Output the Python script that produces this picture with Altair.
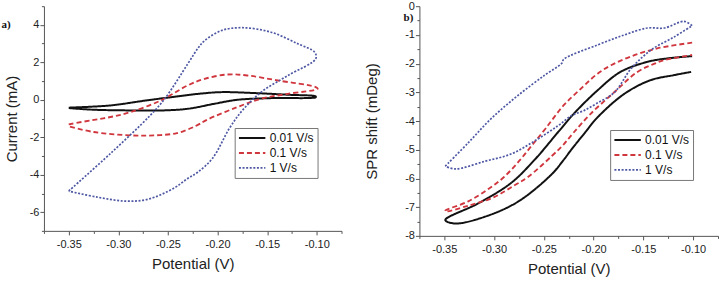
import altair as alt
import pandas as pd

SERIES = ["0.01 V/s", "0.1 V/s", "1 V/s"]
COLORS = ["#111111", "#d0363e", "#4d57a3"]
DASHES = [[1, 0], [5, 3], [2, 1.6]]
WIDTHS = [2.0, 1.7, 1.3]

# ---- panel a: current vs potential ----
A_V_001 = [-0.350, -0.308, -0.274, -0.241, -0.219, -0.196, -0.163, -0.129, -0.101,
           -0.101, -0.146, -0.180, -0.203, -0.230, -0.257, -0.281, -0.325, -0.350]
A_I_001 = [-0.42, -0.30, -0.05, 0.18, 0.32, 0.41, 0.36, 0.27, 0.18,
           0.14, 0.09, 0.00, -0.21, -0.48, -0.57, -0.57, -0.53, -0.44]

A_V_01 = [-0.350, -0.328, -0.308, -0.288, -0.257, -0.230, -0.213, -0.190, -0.170, -0.139, -0.101,
          -0.099, -0.129, -0.156, -0.180, -0.210, -0.222, -0.241, -0.264, -0.288, -0.325, -0.350]
A_I_01 = [-1.31, -1.10, -0.92, -0.66, -0.03, 0.77, 1.12, 1.35, 1.30, 1.03, 0.68,
          0.59, 0.32, 0.06, -0.39, -1.05, -1.40, -1.78, -1.90, -1.90, -1.72, -1.42]

A_V_1 = [-0.350, -0.308, -0.268, -0.253, -0.230, -0.219, -0.213, -0.196, -0.175, -0.146, -0.119, -0.102,
         -0.101, -0.129, -0.156, -0.175, -0.188, -0.205, -0.220, -0.230, -0.244, -0.270, -0.293, -0.321, -0.350]
A_I_1 = [-4.87, -2.87, -0.84, 0.07, 1.92, 2.81, 3.16, 3.70, 3.85, 3.61, 2.99, 2.54,
         2.19, 1.30, 0.41, -0.57, -1.52, -3.12, -3.87, -4.20, -4.72, -5.31, -5.41, -5.20, -4.88]

# ---- panel b: SPR shift vs potential ----
B_V_001 = [-0.101, -0.126, -0.146, -0.173, -0.196, -0.220, -0.236, -0.259, -0.283, -0.316, -0.349,
           -0.339, -0.309, -0.276, -0.242, -0.230, -0.222, -0.209, -0.196, -0.169, -0.143, -0.119, -0.102]
B_S_001 = [-1.74, -1.82, -1.94, -2.29, -2.93, -3.75, -4.40, -5.34, -6.16, -6.87, -7.45,
           -7.57, -7.33, -6.81, -5.85, -5.35, -4.98, -4.42, -3.87, -3.05, -2.58, -2.40, -2.29]

B_V_01 = [-0.101, -0.136, -0.163, -0.182, -0.196, -0.212, -0.230, -0.248, -0.262, -0.275, -0.290, -0.305, -0.326, -0.349,
          -0.349, -0.326, -0.300, -0.280, -0.266, -0.242, -0.230, -0.220, -0.203, -0.179, -0.156, -0.140, -0.129, -0.101]
B_S_01 = [-1.27, -1.47, -1.76, -2.05, -2.35, -2.85, -3.45, -4.25, -4.85, -5.40, -5.95, -6.35, -6.80, -7.12,
          -7.15, -6.95, -6.65, -6.25, -5.95, -5.22, -4.81, -4.40, -3.75, -2.99, -2.29, -2.02, -1.88, -1.70]

B_V_1 = [-0.349, -0.326, -0.303, -0.276, -0.249, -0.232, -0.230, -0.196, -0.169, -0.146, -0.129, -0.109, -0.101,
         -0.101, -0.119, -0.142, -0.162, -0.179, -0.197, -0.210, -0.222, -0.236, -0.259, -0.283, -0.309, -0.339, -0.349]
B_S_1 = [-5.57, -4.76, -3.92, -3.11, -2.40, -1.99, -1.85, -1.35, -1.00, -0.76, -0.76, -0.53, -0.68,
         -0.68, -1.07, -1.52, -2.16, -3.00, -3.39, -3.64, -3.81, -4.17, -4.69, -5.15, -5.40, -5.67, -5.57]

X_TICKS = [-0.375, -0.35, -0.325, -0.30, -0.275, -0.25, -0.225, -0.20, -0.175, -0.15, -0.125, -0.10, -0.075]
A_Y_TICKS = list(range(-7, 6))
B_Y_TICKS = [v / 2 for v in range(-16, 1)]

FONT = "Liberation Sans"


def frame(vs, ys):
    rows = []
    for name, v, y in zip(SERIES, vs, ys):
        for k, (a, b) in enumerate(zip(v, y)):
            rows.append({"series": name, "V": a, "Y": b, "k": k})
    return pd.DataFrame(rows)


def panel(df, ytitle, ydom, yticks, ymajor, height, width, ytitlepad,
          leg_x, leg_y, tag, tag_x, tag_y):
    x_major = "abs(datum.value*20 - round(datum.value*20)) < 0.001"
    legend = alt.Legend(
        title=None, orient="none", legendX=leg_x, legendY=leg_y,
        strokeColor="#777", fillColor="white", padding=3,
        symbolType="stroke", symbolSize=700, clipHeight=14, rowPadding=1,
        labelFont=FONT, labelFontSize=12, labelColor="#111", labelOffset=3,
    )
    lines = alt.Chart(df).mark_line(interpolate="catmull-rom").encode(
        x=alt.X("V:Q", scale=alt.Scale(domain=[-0.375, -0.075], nice=False, zero=False),
                axis=alt.Axis(
                    title="Potential (V)", values=X_TICKS,
                    labelExpr=f"{x_major} ? replace(format(datum.value, '.2f'), '\u2212', '-') : ''",
                    tickSize={"condition": {"test": x_major, "value": 4}, "value": 2.5},
                    labelPadding=4, titlePadding=7,
                )),
        y=alt.Y("Y:Q", scale=alt.Scale(domain=ydom, nice=False, zero=False),
                axis=alt.Axis(
                    title=ytitle, values=yticks,
                    labelExpr=f"{ymajor} ? replace(format(datum.value, 'd'), '\u2212', '-') : ''",
                    tickSize={"condition": {"test": ymajor, "value": 4}, "value": 2.5},
                    labelPadding=1, titlePadding=ytitlepad,
                )),
        color=alt.Color("series:N", scale=alt.Scale(domain=SERIES, range=COLORS), legend=legend),
        strokeDash=alt.StrokeDash("series:N", scale=alt.Scale(domain=SERIES, range=DASHES), legend=legend),
        strokeWidth=alt.StrokeWidth("series:N", scale=alt.Scale(domain=SERIES, range=WIDTHS), legend=legend),
        order="k:Q",
        detail="series:N",
    )
    label = alt.Chart(pd.DataFrame({"t": [tag]})).mark_text(
        font="Liberation Serif", fontWeight="bold", fontSize=11, color="#111"
    ).encode(text="t:N", x=alt.value(tag_x), y=alt.value(tag_y))
    return alt.layer(lines, label).properties(width=width, height=height)


pa = panel(frame([A_V_001, A_V_01, A_V_1], [A_I_001, A_I_01, A_I_1]),
           "Current (mA)", [-7, 5], A_Y_TICKS, "abs(datum.value % 2) < 0.01",
           225, 298, 10, 191, 122, "a)", -38, 19)
pb = panel(frame([B_V_001, B_V_01, B_V_1], [B_S_001, B_S_01, B_S_1]),
           "SPR shift (mDeg)", [-8, 0], B_Y_TICKS, "abs(datum.value % 1) < 0.01",
           230, 299, 25, 191, 124, "b)", -11, 12)

chart = alt.hconcat(pa, pb, spacing=22).resolve_scale(
    color="independent", strokeDash="independent", strokeWidth="independent"
).properties(
    padding={"left": 1, "top": 0, "right": 2, "bottom": 0}
).configure_view(stroke=None).configure_axis(
    grid=False, domainColor="#555", tickColor="#555", domainWidth=1, tickWidth=1,
    labelFont=FONT, labelFontSize=11, labelColor="#222",
    titleFont=FONT, titleFontSize=15, titleFontWeight="normal", titleColor="#222",
)

chart.save("out.html", embed_options={"renderer": "svg", "actions": False})
